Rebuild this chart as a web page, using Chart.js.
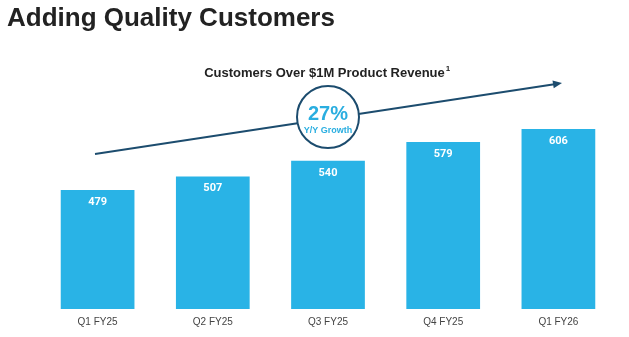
<!DOCTYPE html>
<html>
<head>
<meta charset="utf-8">
<script src="https://cdn.jsdelivr.net/npm/chart.js@4"></script>
<style>
  html, body { margin: 0; padding: 0; background: #fff; }
  #wrap { width: 629px; height: 337px; }
</style>
</head>
<body>
<div id="wrap"><canvas id="customers-chart"></canvas></div>
<script>
const quarters = ["Q1 FY25", "Q2 FY25", "Q3 FY25", "Q4 FY25", "Q1 FY26"];
const customers = [479, 507, 540, 579, 606];
const growthLabel = ["27%", "Y/Y Growth"];

const barColor = "#29b3e6";
const navy = "#1c4c6e";

// 標題、箭頭、圓圈
const decorPlugin = {
  id: "decor",
  afterDraw(chart) {
    const ctx = chart.ctx;
    ctx.save();

    ctx.fillStyle = "#222";
    ctx.textAlign = "left";
    ctx.textBaseline = "alphabetic";
    ctx.font = "bold 26px 'Liberation Sans', Arial, sans-serif";
    ctx.fillText("Adding Quality Customers", 7, 26);

    ctx.font = "bold 13px 'Liberation Sans', Arial, sans-serif";
    const sub = "Customers Over $1M Product Revenue";
    const w = ctx.measureText(sub).width;
    const sx = 327 - (w + 5) / 2;
    ctx.fillText(sub, sx, 77);
    ctx.font = "bold 8px 'Liberation Sans', Arial, sans-serif";
    ctx.fillText("1", sx + w + 1, 71);

    // 箭頭
    const x1 = 95, y1 = 154, x2 = 562, y2 = 83;
    ctx.strokeStyle = navy;
    ctx.lineWidth = 2;
    ctx.beginPath();
    ctx.moveTo(x1, y1);
    ctx.lineTo(x2 - 6, y2 + 1);
    ctx.stroke();
    const ang = Math.atan2(y2 - y1, x2 - x1);
    ctx.fillStyle = navy;
    ctx.beginPath();
    ctx.moveTo(x2, y2);
    ctx.lineTo(x2 - 9 * Math.cos(ang) + 4 * Math.sin(ang), y2 - 9 * Math.sin(ang) - 4 * Math.cos(ang));
    ctx.lineTo(x2 - 9 * Math.cos(ang) - 4 * Math.sin(ang), y2 - 9 * Math.sin(ang) + 4 * Math.cos(ang));
    ctx.closePath();
    ctx.fill();

    // 圓圈
    ctx.beginPath();
    ctx.arc(328, 117, 31, 0, Math.PI * 2);
    ctx.fillStyle = "#fff";
    ctx.fill();
    ctx.stroke();

    ctx.fillStyle = "#2aaee0";
    ctx.textAlign = "center";
    ctx.textBaseline = "middle";
    ctx.font = "bold 20px 'Liberation Sans', Arial, sans-serif";
    ctx.fillText(growthLabel[0], 328, 114);
    ctx.font = "bold 9px 'Liberation Sans', Arial, sans-serif";
    ctx.fillText(growthLabel[1], 328, 131);

    // 長條上的數字
    const meta = chart.getDatasetMeta(0);
    ctx.fillStyle = "#fff";
    ctx.font = "bold 11px Roboto, 'Liberation Sans', sans-serif";
    meta.data.forEach((bar, i) => {
      ctx.fillText(customers[i], bar.x, bar.y + 12);
    });

    ctx.restore();
  },
};

const chart = new Chart(document.querySelector("#customers-chart"), {
  type: "bar",
  data: {
    labels: quarters,
    datasets: [
      {
        data: customers,
        backgroundColor: barColor,
        borderWidth: 0,
        barPercentage: 0.64,
        categoryPercentage: 1,
      },
    ],
  },
  options: {
    responsive: true,
    maintainAspectRatio: false,
    animation: false,
    layout: {
      padding: { top: 49, left: 40, right: 13, bottom: 2 },
    },
    scales: {
      y: {
        display: false,
        min: 231,
        max: 773,
      },
      x: {
        grid: { display: false, drawTicks: false },
        border: { display: false },
        ticks: {
          padding: 7,
          color: "#444",
          font: { size: 10, family: "'Liberation Sans', Arial, sans-serif" },
        },
      },
    },
    plugins: {
      legend: { display: false },
      tooltip: { enabled: false },
    },
  },
  plugins: [decorPlugin],
});
</script>
</body>
</html>
